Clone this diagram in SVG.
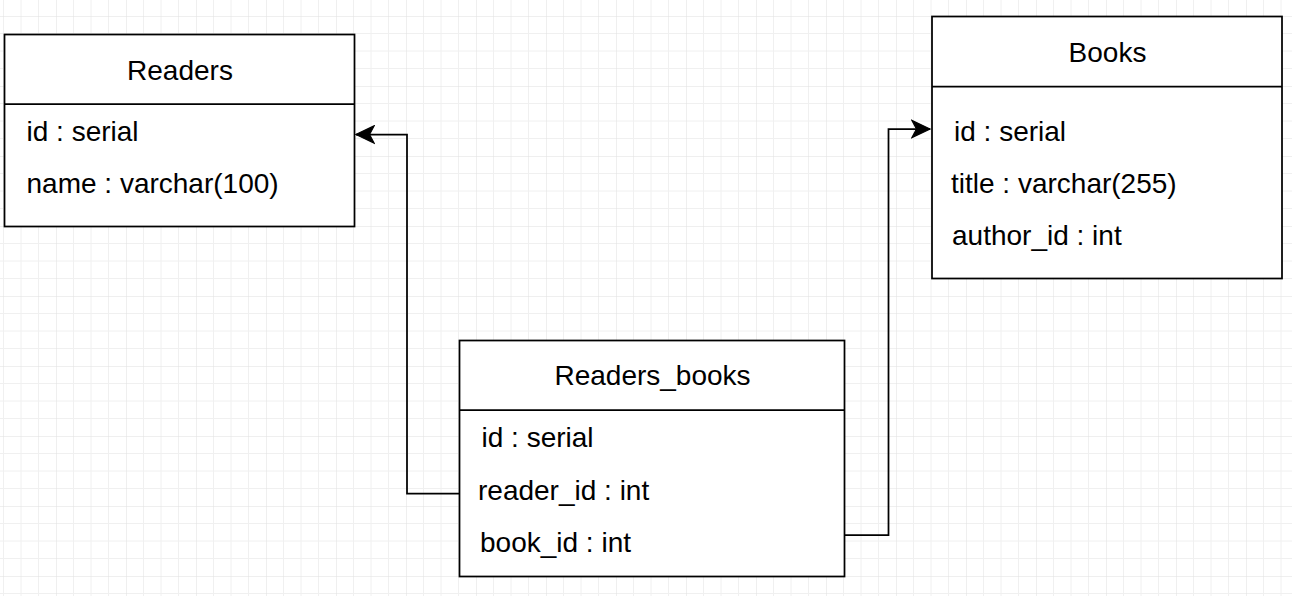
<svg xmlns="http://www.w3.org/2000/svg" width="1292" height="596" viewBox="0 0 1292 596">
  <defs>
    <pattern id="grid" x="-14" y="-54" width="70" height="70" patternUnits="userSpaceOnUse">
      <path d="M17.5 0V70M35 0V70M52.5 0V70M0 17.5H70M0 35H70M0 52.5H70" fill="none" stroke="#f0f0f0" stroke-width="1"/>
      <path d="M0 0V70M0 0H70" fill="none" stroke="#e0e0e0" stroke-width="1"/>
    </pattern>
    <marker id="arrow" markerUnits="userSpaceOnUse" markerWidth="20" markerHeight="20" viewBox="-16 -8 17 16" refX="0" refY="0" orient="auto">
      <path d="M0 0L-15.5 -7.5L-11.5 0L-15.5 7.5Z" fill="#000" stroke="#000" stroke-width="1"/>
    </marker>
    <style>
      .box { fill: #ffffff; stroke: #000000; stroke-width: 1.75; }
      .sep { stroke: #000000; stroke-width: 1.75; }
      .t { font-family: "Liberation Sans", Arial, sans-serif; font-size: 28px; fill: #000000; }
      .title { text-anchor: middle; }
      .edge { fill: none; stroke: #000000; stroke-width: 1.75; marker-end: url(#arrow); }
    </style>
  </defs>
  <rect x="0" y="0" width="1292" height="596" fill="#ffffff"/>
  <rect x="0" y="0" width="1292" height="596" fill="url(#grid)"/>

  <g id="connectors">
    <path class="edge" d="M459 493.5H407V134.5H356"/>
    <path class="edge" d="M844 535H888.5V129H930"/>
  </g>

  <g id="readers">
    <rect class="box" x="4.5" y="34.5" width="350" height="192"/>
    <line class="sep" x1="4.5" y1="104" x2="354.5" y2="104"/>
    <text class="t title" x="180" y="80">Readers</text>
    <text class="t" x="26.5" y="141">id : serial</text>
    <text class="t" x="26.5" y="193">name : varchar(100)</text>
  </g>

  <g id="books">
    <rect class="box" x="932" y="16.5" width="350" height="262"/>
    <line class="sep" x1="932" y1="86.5" x2="1282" y2="86.5"/>
    <text class="t title" x="1107.5" y="62">Books</text>
    <text class="t" x="954" y="141">id : serial</text>
    <text class="t" x="951" y="193">title : varchar(255)</text>
    <text class="t" x="952" y="245">author_id : int</text>
  </g>

  <g id="readers_books">
    <rect class="box" x="459.5" y="340.5" width="385" height="236"/>
    <line class="sep" x1="459.5" y1="410" x2="844.5" y2="410"/>
    <text class="t title" x="652.5" y="385">Readers_books</text>
    <text class="t" x="481.5" y="447">id : serial</text>
    <text class="t" x="478" y="499.5">reader_id : int</text>
    <text class="t" x="480" y="552">book_id : int</text>
  </g>
</svg>
